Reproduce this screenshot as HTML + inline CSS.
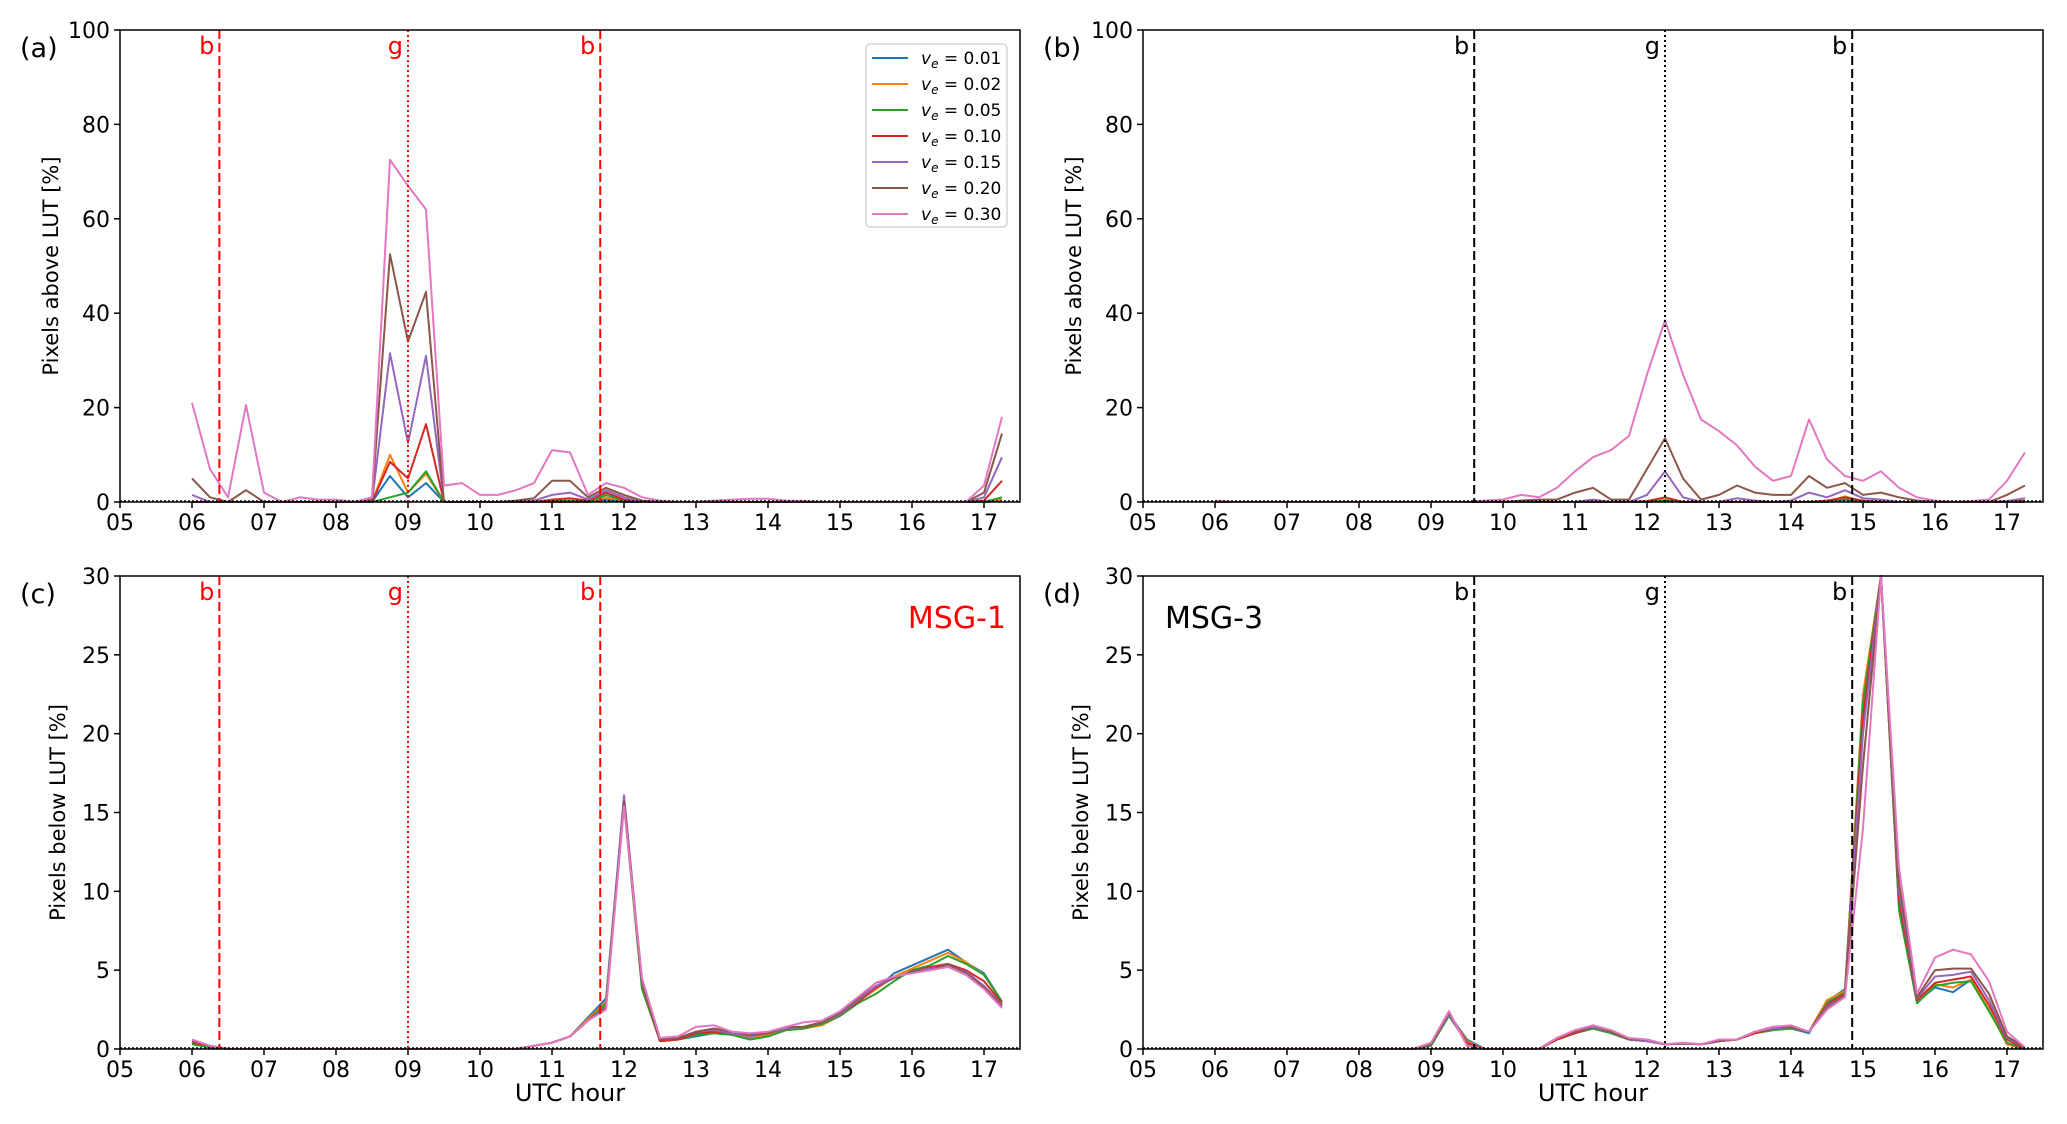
<!DOCTYPE html>
<html><head><meta charset="utf-8"><style>
html,body{margin:0;padding:0;background:#fff;}
svg{display:block;font-family:"DejaVu Sans","Liberation Sans",sans-serif;}
</style></head><body>
<svg id="fig" width="2067" height="1124" viewBox="0 0 2067 1124" xmlns="http://www.w3.org/2000/svg"></svg>
<script>
// ---- data ----
const hours = [6,6.25,6.5,6.75,7,7.25,7.5,7.75,8,8.25,8.5,8.75,9,9.25,9.5,9.75,10,10.25,10.5,10.75,11,11.25,11.5,11.75,12,12.25,12.5,12.75,13,13.25,13.5,13.75,14,14.25,14.5,14.75,15,15.25,15.5,15.75,16,16.25,16.5,16.75,17,17.25];
const xTickLabels = ["05","06","07","08","09","10","11","12","13","14","15","16","17"];
const seriesNames = ["0.01","0.02","0.05","0.10","0.15","0.20","0.30"];
const seriesColors = ["#1f77b4","#ff7f0e","#2ca02c","#d62728","#9467bd","#8c564b","#e377c2"];
const yTicksAbove = [0,20,40,60,80,100];
const yTicksBelow = [0,5,10,15,20,25,30];

// Panel (a): pixels above LUT, MSG-1
const a001 = [0,0,0,0,0,0,0,0,0,0,0,5.5,1,4,0,0,0,0,0,0,0,0,0,0.5,0,0,0,0,0,0,0,0,0,0,0,0,0,0,0,0,0,0,0,0,0,0.3];
const a002 = [0,0,0,0,0,0,0,0,0,0,0,10,2,6,0,0,0,0,0,0,0,0,0,1,0.3,0,0,0,0,0,0,0,0,0,0,0,0,0,0,0,0,0,0,0,0,0.5];
const a005 = [0,0,0,0,0,0,0,0,0,0,0,1,2,6.5,0,0,0,0,0,0,0.2,0.3,0,1.5,0.3,0,0,0,0,0,0,0,0,0,0,0,0,0,0,0,0,0,0,0,0,1];
const a010 = [0,0,0,0,0,0,0,0,0,0,0,8.5,5,16.5,0,0,0,0,0,0,0.5,0.8,0.3,2,0.5,0,0,0,0,0,0,0,0,0,0,0,0,0,0,0,0,0,0,0,0.3,4.5];
const a015 = [1.5,0,0,0,0,0,0,0,0,0,0,31.5,12.5,31,0,0,0,0,0,0.3,1.5,2,0.5,2.5,1,0,0,0,0,0,0,0,0,0,0,0,0,0,0,0,0,0,0,0,1,9.5];
const a020 = [5,1,0,2.5,0,0,0,0,0,0,0.5,52.5,34,44.5,0,0,0,0,0.3,0.8,4.5,4.5,1,3,1.5,0.3,0,0,0,0,0,0,0,0,0,0,0,0,0,0,0,0,0,0,2,14.5];
const a030 = [21,7,1,20.5,2,0,1,0.5,0.5,0,1,72.5,67,62,3.5,4,1.5,1.5,2.5,4,11,10.5,1.5,4,3,1,0.3,0,0,0.3,0.5,0.7,0.7,0.3,0.2,0,0,0,0,0,0,0,0,0,3.5,18];
// Panel (b): pixels above LUT, MSG-3
const b001 = [0,0,0,0,0,0,0,0,0,0,0,0,0,0,0,0,0,0,0,0,0,0,0,0,0,0.3,0,0,0,0,0,0,0,0,0,0.5,0,0,0,0,0,0,0,0,0,0];
const b002 = [0,0,0,0,0,0,0,0,0,0,0,0,0,0,0,0,0,0,0,0,0,0,0,0,0,0.5,0,0,0,0,0,0,0,0,0,1.2,0,0,0,0,0,0,0,0,0,0];
const b005 = [0,0,0,0,0,0,0,0,0,0,0,0,0,0,0,0,0,0,0,0,0,0,0,0,0,0.3,0,0,0,0,0,0,0,0,0,0.8,0,0,0,0,0,0,0,0,0,0];
const b010 = [0,0,0,0,0,0,0,0,0,0,0,0,0,0,0,0,0,0,0,0,0,0,0,0,0.2,1,0,0,0,0,0,0,0,0,0.3,1,0.3,0,0,0,0,0,0,0,0,0.3];
const b015 = [0,0,0,0,0,0,0,0,0,0,0,0,0,0,0,0,0,0,0,0,0,0.5,0,0,1.5,6.5,1,0,0,0.8,0.3,0,0.3,2,1,2.5,0.8,0.5,0,0,0,0,0,0,0.2,0.8];
const b020 = [0,0,0,0,0,0,0,0,0,0,0,0,0,0,0,0,0,0.3,0.5,0.5,2,3,0.5,0.5,7,13.5,5,0.5,1.5,3.5,2,1.5,1.5,5.5,3,4,1.5,2,1,0.3,0,0,0,0,1.5,3.5];
const b030 = [0.3,0,0,0,0,0,0,0,0,0,0,0,0,0,0,0.3,0.5,1.5,1,3,6.5,9.5,11,14,27,38.5,27,17.5,15,12,7.5,4.5,5.5,17.5,9,5.5,4.5,6.5,3,1,0.3,0,0.2,0.5,4.5,10.5];
// Panel (c): pixels below LUT, MSG-1
const c001 = [0.4,0.2,0,0,0,0,0,0,0,0,0,0,0,0,0,0,0,0,0,0.2,0.4,0.8,2,3.2,16,4,0.5,0.6,0.8,1,0.9,0.6,0.8,1.2,1.3,1.6,2.1,3,3.8,4.8,5.3,5.8,6.3,5.5,4.8,3];
const c002 = [0.4,0.2,0,0,0,0,0,0,0,0,0,0,0,0,0,0,0,0,0,0.2,0.4,0.8,1.9,3,15.8,4,0.5,0.6,0.9,1,0.9,0.7,0.9,1.2,1.3,1.5,2.1,3,3.8,4.6,5.1,5.6,6.1,5.5,4.7,3];
const c005 = [0.3,0.1,0,0,0,0,0,0,0,0,0,0,0,0,0,0,0,0,0,0.2,0.4,0.8,1.8,2.9,15.6,3.8,0.5,0.6,0.9,1,0.9,0.6,0.8,1.2,1.3,1.6,2.1,2.9,3.5,4.3,5,5.3,5.9,5.4,4.7,3];
const c010 = [0.4,0.2,0,0,0,0,0,0,0,0,0,0,0,0,0,0,0,0,0,0.2,0.4,0.8,1.8,2.7,15.5,4.2,0.5,0.6,1,1.1,1,0.8,1,1.3,1.4,1.7,2.2,3,3.9,4.5,4.9,5.2,5.4,5,4.3,2.9];
const c015 = [0.5,0.2,0,0,0,0,0,0,0,0,0,0,0,0,0,0,0,0,0,0.2,0.4,0.8,1.8,2.7,16.1,4.3,0.6,0.7,1.1,1.2,1,0.8,1,1.3,1.4,1.7,2.2,3.1,4,4.5,4.9,5.1,5.3,4.9,4,2.8];
const c020 = [0.5,0.2,0,0,0,0,0,0,0,0,0,0,0,0,0,0,0,0,0,0.2,0.4,0.8,1.8,2.6,15.7,4.4,0.6,0.7,1.1,1.3,1.1,0.9,1,1.4,1.4,1.7,2.3,3.2,4.2,4.5,4.9,5,5.4,4.8,3.9,2.7];
const c030 = [0.6,0.2,0,0,0,0,0,0,0,0,0,0,0,0,0,0,0,0,0,0.2,0.4,0.8,1.8,2.5,15.4,4.5,0.7,0.8,1.4,1.5,1.1,1,1.1,1.4,1.7,1.8,2.4,3.3,4.2,4.6,4.8,5,5.2,4.7,3.8,2.6];
// Panel (d): pixels below LUT, MSG-3
const d001 = [0,0,0,0,0,0,0,0,0,0,0,0,0.3,2.2,0.6,0,0,0,0,0.6,1,1.3,1,0.6,0.5,0.3,0.35,0.3,0.5,0.6,1,1.2,1.3,1,3,3.8,22,30,9,3,3.9,3.6,4.4,2.5,0.3,0];
const d002 = [0,0,0,0,0,0,0,0,0,0,0,0,0.3,2.2,0.5,0,0,0,0,0.6,1,1.3,1,0.6,0.5,0.3,0.35,0.3,0.5,0.6,1,1.2,1.3,1.1,3.1,3.7,22.5,30,9,3,4.1,3.9,4.4,2.5,0.3,0];
const d005 = [0,0,0,0,0,0,0,0,0,0,0,0,0.2,2.1,0.4,0,0,0,0,0.6,1,1.3,1,0.6,0.5,0.3,0.35,0.3,0.5,0.6,1,1.2,1.3,1.1,2.9,3.6,22,30,8.8,2.9,4,4.2,4.3,2.4,0.4,0];
const d010 = [0,0,0,0,0,0,0,0,0,0,0,0,0.3,2.2,0.4,0,0,0,0,0.6,1,1.4,1.1,0.6,0.5,0.3,0.35,0.3,0.5,0.6,1,1.3,1.4,1.1,2.8,3.5,21,30,9.5,3.1,4.2,4.4,4.6,2.8,0.6,0];
const d015 = [0,0,0,0,0,0,0,0,0,0,0,0,0.3,2.2,0.3,0,0,0,0,0.7,1.1,1.4,1.1,0.6,0.5,0.3,0.35,0.3,0.5,0.6,1.1,1.3,1.4,1.1,2.7,3.4,20,30,10,3.2,4.6,4.7,4.9,3.1,0.7,0.1];
const d020 = [0,0,0,0,0,0,0,0,0,0,0,0,0.3,2.3,0.3,0,0,0,0,0.7,1.1,1.5,1.1,0.6,0.6,0.3,0.35,0.3,0.5,0.6,1.1,1.4,1.4,1.1,2.6,3.4,18,30,10.5,3.3,5,5.1,5.1,3.5,0.8,0.1];
const d030 = [0,0,0,0,0,0,0,0,0,0,0,0,0.4,2.4,0.2,0,0,0,0,0.7,1.2,1.5,1.2,0.7,0.6,0.3,0.4,0.3,0.6,0.6,1.1,1.4,1.5,1.1,2.5,3.3,14,30,11.5,3.5,5.8,6.3,6,4.3,1.1,0.1];

const NS='http://www.w3.org/2000/svg';
const svg=document.getElementById('fig');
function el(tag,attrs,parent){const e=document.createElementNS(NS,tag);for(const k in attrs)e.setAttribute(k,attrs[k]);(parent||svg).appendChild(e);return e;}
function txt(s,attrs,parent){const e=el('text',attrs,parent);e.textContent=s;return e;}

const panels=[
 {id:'a',L:120,R:1020,T:30,B:502,ymax:100,ticks:yTicksAbove,ylab:'Pixels above LUT [%]',data:[a001,a002,a005,a010,a015,a020,a030],vl:[6.38,9.0,11.67],vc:'#ff0000',xlab:false,legend:true},
 {id:'b',L:1143,R:2043,T:30,B:502,ymax:100,ticks:yTicksAbove,ylab:'Pixels above LUT [%]',data:[b001,b002,b005,b010,b015,b020,b030],vl:[9.6,12.25,14.85],vc:'#000',xlab:false},
 {id:'c',L:120,R:1020,T:576,B:1049,ymax:30,ticks:yTicksBelow,ylab:'Pixels below LUT [%]',data:[c001,c002,c005,c010,c015,c020,c030],vl:[6.38,9.0,11.67],vc:'#ff0000',xlab:true,sat:'MSG-1',satc:'#ff0000',satRight:true},
 {id:'d',L:1143,R:2043,T:576,B:1049,ymax:30,ticks:yTicksBelow,ylab:'Pixels below LUT [%]',data:[d001,d002,d005,d010,d015,d020,d030],vl:[9.6,12.25,14.85],vc:'#000',xlab:true,sat:'MSG-3',satc:'#000',satRight:false}
];

panels.forEach(p=>{
  const g=el('g',{});
  
  
  const xs=h=>p.L+(h-5)/12.5*(p.R-p.L);
  const ys=v=>p.B-Math.min(v,p.ymax)/p.ymax*(p.B-p.T);
  const pl=txt('('+p.id+')',{x:p.L-100,y:p.T+27,'font-size':27,fill:'#000'},g);
  
  
  p.ticks.forEach(t=>{
    const y=ys(t);
    el('line',{x1:p.L-6,x2:p.L,y1:y,y2:y,stroke:'#000','stroke-width':1.5},g);
    const tl=txt(String(t),{x:p.L-10,y:y+8,'font-size':22,'text-anchor':'end'},g);
    
    
  });
  xTickLabels.forEach((lab,i)=>{
    const x=xs(5+i);
    el('line',{x1:x,x2:x,y1:p.B,y2:p.B+6,stroke:'#000','stroke-width':1.5},g);
    const tl=txt(lab,{x:x,y:p.B+28,'font-size':22,'text-anchor':'middle'},g);
    
    
  });
  const cy=(p.T+p.B)/2, lx=p.L-(p.ymax===100?62:55);
  const yl=txt(p.ylab,{x:lx,y:cy,'font-size':21,'text-anchor':'middle',transform:`rotate(-90 ${lx} ${cy})`},g);
  
  
  if(p.xlab){
    const xl=txt('UTC hour',{x:(p.L+p.R)/2,y:p.B+52,'font-size':24,'text-anchor':'middle'},g);
    
    
  }
  p.data.forEach((arr,si)=>{
    const pts=arr.map((v,i)=>xs(hours[i]).toFixed(1)+','+ys(v).toFixed(1)).join(' ');
    const pl=el('polyline',{points:pts,fill:'none',stroke:seriesColors[si],'stroke-width':2,'stroke-linejoin':'round'},g);
    
    
  });
  const zl=el('line',{x1:p.L,x2:p.R,y1:p.B-1,y2:p.B-1,stroke:'#000','stroke-width':1.5,'stroke-dasharray':'2,2'},g);
  
  
  const labs=['b','g','b'];
  p.vl.forEach((h,i)=>{
    const x=xs(h);
    const v=el('line',{x1:x,x2:x,y1:p.T,y2:p.B,stroke:p.vc,'stroke-width':2,'stroke-dasharray':i===1?'2,3':'9,4'},g);
    
    
    const t=txt(labs[i],{x:x-5,y:p.T+24,'font-size':24,'text-anchor':'end',fill:p.vc},g);
    
    
  });
  if(p.sat){
    const s=txt(p.sat,{x:p.satRight?p.R-14:p.L+22,y:p.T+52,'font-size':30,'text-anchor':p.satRight?'end':'start',fill:p.satc},g);
    
    
  }
  const fr=el('rect',{x:p.L,y:p.T,width:p.R-p.L,height:p.B-p.T,fill:'none',stroke:'#000','stroke-width':1.5},g);
  
  
  if(p.legend){
    const lg=el('g',{},g);
    
    
    el('rect',{x:866,y:44,width:141,height:183,rx:4,fill:'#fff',stroke:'#ccc','stroke-width':1.2},lg);
    seriesNames.forEach((n,i)=>{
      const y=58+i*26;
      const e=el('g',{},lg);
      
      
      el('line',{x1:872,x2:908,y1:y,y2:y,stroke:seriesColors[i],'stroke-width':2},e);
      const t=el('text',{x:921,y:y+6,'font-size':17},e);
      const v=document.createElementNS(NS,'tspan');v.setAttribute('font-style','italic');v.textContent='v';t.appendChild(v);
      const s=document.createElementNS(NS,'tspan');s.setAttribute('font-style','italic');s.setAttribute('font-size','12');s.setAttribute('dy','4');s.textContent='e';t.appendChild(s);
      const r=document.createElementNS(NS,'tspan');r.setAttribute('dy','-4');r.textContent=' = '+n;t.appendChild(r);
    });
  }
});
</script>
</body></html>
